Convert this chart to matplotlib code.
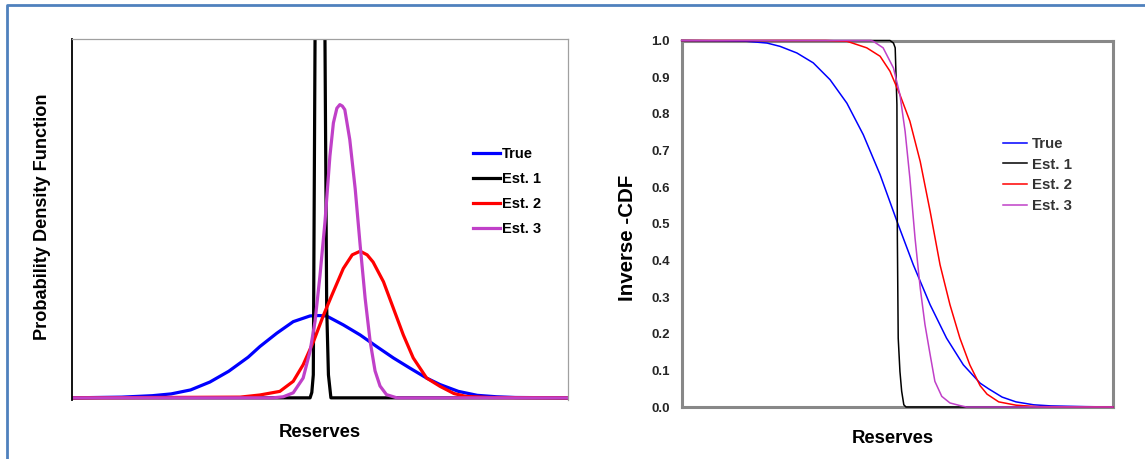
import numpy as np
import matplotlib
matplotlib.use("Agg")
import matplotlib.pyplot as plt
from matplotlib.lines import Line2D

plt.rcParams['font.family'] = ['Liberation Sans', 'DejaVu Sans']
plt.rcParams['font.weight'] = 'bold'

# ---- PDF panel (y as fraction of the axis height) ----
pdf_true_x = [0, 10.0, 16.2, 20.0, 23.9, 27.8, 31.6, 35.5, 37.9, 41.3, 44.6, 48.0, 49.7, 51.3,
              54.7, 58.1, 61.4, 64.8, 68.1, 71.5, 74.2, 77.9, 81.7, 85.6, 89.4, 100]
pdf_true_y = [0, 0.002, 0.006, 0.011, 0.022, 0.044, 0.074, 0.113, 0.143, 0.180, 0.212, 0.228,
              0.229, 0.228, 0.203, 0.175, 0.143, 0.111, 0.083, 0.055, 0.037, 0.018, 0.007,
              0.003, 0.001, 0]

pdf_est1_x = [0, 47.0, 48.0, 48.35, 48.65, 49.0, 49.5, 50.0, 50.5, 51.0, 51.35, 51.7, 52.2, 53.0, 100]
pdf_est1_y = [0, 0, 0, 0.015, 0.064, 1.0, 3.5, 5.3, 3.5, 1.0, 0.25, 0.064, 0, 0, 0]

pdf_est2_x = [0, 33.9, 37.9, 41.9, 44.6, 46.6, 48.7, 50.7, 52.4, 54.7, 56.5, 58.1, 59.5, 60.7,
              62.8, 64.8, 66.8, 68.8, 71.5, 74.2, 77.0, 79.4, 84.0, 100]
pdf_est2_y = [0, 0.002, 0.008, 0.018, 0.046, 0.092, 0.157, 0.230, 0.286, 0.360, 0.398, 0.408,
              0.398, 0.378, 0.323, 0.249, 0.175, 0.111, 0.055, 0.032, 0.012, 0.004, 0.001, 0]

pdf_est3_x = [0, 40.5, 42.6, 44.6, 46.6, 48.0, 49.0, 50.0, 51.0, 52.0, 52.7, 53.4, 54.0, 54.5,
              55.0, 56.0, 57.1, 58.1, 59.1, 60.1, 61.1, 62.1, 63.4, 65.5, 100]
pdf_est3_y = [0, 0, 0.003, 0.014, 0.055, 0.130, 0.213, 0.341, 0.489, 0.673, 0.765, 0.806, 0.816,
              0.812, 0.802, 0.719, 0.581, 0.424, 0.277, 0.158, 0.075, 0.033, 0.009, 0, 0]

# ---- Inverse-CDF panel ----
cdf_true_x = [0, 9.4, 15.0, 19.8, 22.8, 26.7, 30.5, 34.4, 38.3, 42.1, 46.0, 49.9, 53.7, 57.6,
              61.4, 65.3, 69.2, 71.1, 74.3, 77.5, 81.6, 85.6, 93.6, 100]
cdf_true_y = [1.0, 0.999, 0.998, 0.993, 0.984, 0.966, 0.939, 0.893, 0.829, 0.743, 0.634, 0.507,
              0.388, 0.279, 0.188, 0.115, 0.065, 0.050, 0.027, 0.014, 0.006, 0.003, 0.001, 0.0]

cdf_est1_x = [0, 48.3, 49.1, 49.5, 49.9, 50.0, 50.2, 50.6, 51.0, 51.5, 52.0, 100]
cdf_est1_y = [1, 1.0, 0.993, 0.980, 0.825, 0.461, 0.188, 0.097, 0.043, 0.006, 0, 0]

cdf_est2_x = [0, 33.4, 38.3, 42.9, 46.0, 48.3, 50.6, 52.9, 55.3, 57.6, 59.9, 62.2, 64.5, 66.8,
              69.2, 70.8, 73.5, 77.5, 82.4, 100]
cdf_est2_y = [1, 1.0, 0.998, 0.980, 0.957, 0.916, 0.852, 0.780, 0.670, 0.534, 0.388, 0.279,
              0.188, 0.115, 0.058, 0.035, 0.014, 0.005, 0.001, 0]

cdf_est3_x = [0, 43.9, 44.4, 46.7, 49.1, 50.6, 51.8, 52.9, 54.1, 55.3, 56.4, 57.6, 58.7, 60.3,
              62.2, 64.5, 66.0, 100]
cdf_est3_y = [1, 1.0, 0.998, 0.980, 0.925, 0.852, 0.752, 0.625, 0.461, 0.325, 0.225, 0.143,
              0.070, 0.029, 0.011, 0.004, 0, 0]

labels = ['True', 'Est. 1', 'Est. 2', 'Est. 3']
colors = ['#0000FF', '#000000', '#FF0000', '#C040C8']
yticks = [0.0, 0.1, 0.2, 0.3, 0.4, 0.5, 0.6, 0.7, 0.8, 0.9, 1.0]

fig = plt.figure(figsize=(11.45, 4.59), dpi=100)

# outer blue frame (left and top edges visible)
fx0 = 6.5 / 1145
fy0 = 1 - 5 / 459
fig.add_artist(Line2D([fx0, fx0, 1.0], [0.0, fy0, fy0], transform=fig.transFigure,
                      color='#4F81BD', linewidth=2.0))

# ---- left: PDF ----
ax1 = fig.add_axes([72 / 1145, 1 - 400 / 459, 496 / 1145, 361.5 / 459])
pdf_x = [pdf_true_x, pdf_est1_x, pdf_est2_x, pdf_est3_x]
pdf_y = [pdf_true_y, pdf_est1_y, pdf_est2_y, pdf_est3_y]
for xs, ys, lab, c in zip(pdf_x, pdf_y, labels, colors):
    ax1.plot(xs, ys, color=c, linewidth=2.3, label=lab, solid_joinstyle='round')
ax1.set_xlim(0, 100)
ax1.set_ylim(-0.006, 1.0)
ax1.set_xticks([])
ax1.set_yticks([])
for s in ['top', 'right']:
    ax1.spines[s].set_color('#A0A0A0')
    ax1.spines[s].set_linewidth(0.9)
ax1.spines['left'].set_color('black')
ax1.spines['left'].set_linewidth(1.3)
ax1.spines['bottom'].set_visible(False)
ax1.set_xlabel('Reserves', fontsize=13.3, fontweight='bold')
ax1.set_ylabel('Probability Density Function', fontsize=13.1, fontweight='bold')
ax1.xaxis.set_label_coords(0.499, -0.066)
ax1.yaxis.set_label_coords(-0.042, 0.507)
ax1.legend(loc='upper left', bbox_to_anchor=(0.808, 0.699), frameon=False,
           prop={'size': 10.5, 'weight': 'bold'}, handlelength=1.85, handletextpad=0.15,
           labelspacing=0.75, borderpad=0, borderaxespad=0)

# ---- right: inverse CDF ----
ax2 = fig.add_axes([681.7 / 1145, 1 - 407 / 459, 431.3 / 1145, 366.5 / 459])
cdf_x = [cdf_true_x, cdf_est1_x, cdf_est2_x, cdf_est3_x]
cdf_y = [cdf_true_y, cdf_est1_y, cdf_est2_y, cdf_est3_y]
for xs, ys, lab, c in zip(cdf_x, cdf_y, labels, colors):
    ax2.plot(xs, ys, color=c, linewidth=1.1, label=lab, clip_on=False, zorder=3)
ax2.set_xlim(0, 100)
ax2.set_ylim(0, 1.0)
ax2.set_xticks([])
ax2.set_yticks(yticks)
ax2.set_yticklabels([f'{v:.1f}' for v in yticks], fontsize=9.5, fontweight='bold', color='#262626')
ax2.tick_params(axis='y', length=0, pad=8.6)
for s in ax2.spines.values():
    s.set_color('#888888')
    s.set_linewidth(2.2)
ax2.set_xlabel('Reserves', fontsize=13.3, fontweight='bold')
ax2.set_ylabel('Inverse -CDF', fontsize=14.8, fontweight='bold')
ax2.xaxis.set_label_coords(0.489, -0.063)
ax2.yaxis.set_label_coords(-0.104, 0.461)
leg2 = ax2.legend(loc='upper left', bbox_to_anchor=(0.745, 0.737), frameon=False,
                  prop={'size': 10.8, 'weight': 'bold'}, handlelength=1.63, handletextpad=0.3,
                  labelspacing=0.45, borderpad=0, borderaxespad=0)
for t in leg2.get_texts():
    t.set_color('#333333')

fig.savefig('out.png', dpi=100)
